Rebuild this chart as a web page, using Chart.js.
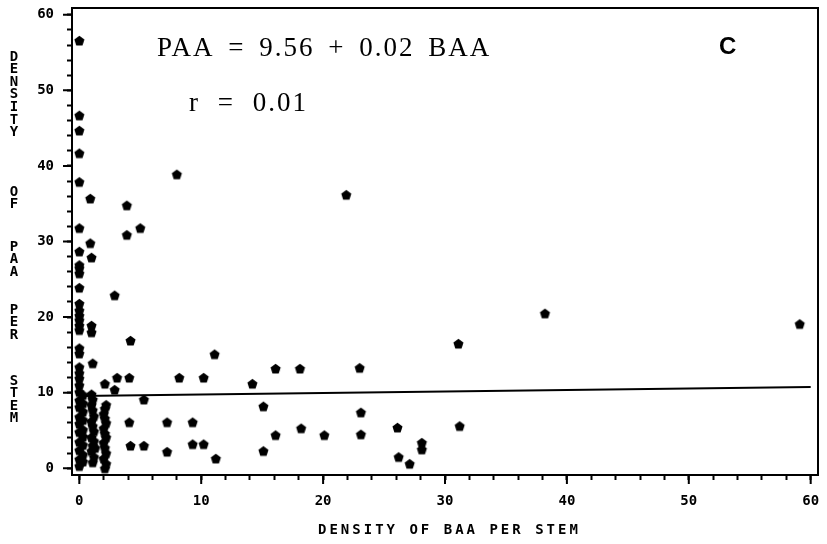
<!DOCTYPE html>
<html>
<head>
<meta charset="utf-8">
<script src="https://cdn.jsdelivr.net/npm/chart.js@4"></script>
<style>
  html, body { margin: 0; padding: 0; background: #fff; }
</style>
</head>
<body>
<canvas id="paa-chart" width="827" height="544"></canvas>
<script>
// density of BAA per stem (x) against density of PAA per stem (y)
const baa = [
  0, 0, 0, 0, 0, 0, 0, 0, 0, 0, 0, 0, 0, 0, 0, 0, 0, 0, 0, 0, 0, 0, 0,
  0, 0.3, 0, 0.3, 0, 0.3, 0, 0.3, 0, 0.3, 0, 0.3, 0, 0.3, 0, 0.3, 0, 0.3, 0,
  0.9, 0.9, 1.0, 1.0, 1.0, 1.1,
  1.1, 1.2, 1.0, 1.3, 1.1, 1.2, 1.0, 1.2, 1.1, 1.0, 1.2, 1.1, 1.0, 1.1, 1.0,
  2.1, 2.1, 2.2, 2.0, 2.2, 2.1, 2.0, 2.2, 2.1, 2.0, 2.2, 2.1, 2.0, 2.1, 2.2,
  2.9, 3.1, 2.9, 3.9, 3.9, 5.0, 8.0, 21.9, 4.2, 4.1, 8.2, 10.2, 11.1, 14.2,
  16.1, 18.1, 23.0, 31.1, 38.2, 59.1, 5.3, 4.1, 7.2, 9.3, 4.2, 5.3, 7.2,
  9.3, 10.2, 11.2, 15.1, 23.1, 26.1, 31.2, 15.1, 16.1, 18.2, 20.1, 23.1,
  26.2, 27.1, 28.1, 28.1
];
const paa = [
  56.6, 46.7, 44.7, 41.7, 37.9, 31.8, 28.7, 26.9, 26.5, 25.8, 23.9, 21.8,
  20.9, 20.2, 19.6, 18.9, 18.3, 15.9, 15.2, 13.4, 12.6, 11.9, 11.0,
  0.3, 0.9, 1.2, 1.8, 2.4, 3.1, 3.5, 4.2, 4.8, 5.1, 5.9, 6.4, 6.8, 7.5, 8.1,
  8.6, 9.0, 9.7, 10.1,
  35.7, 29.8, 27.9, 18.9, 18.0, 13.9,
  0.8, 1.5, 2.3, 2.7, 3.0, 3.6, 4.1, 4.9, 5.6, 6.2, 6.9, 7.7, 8.4, 9.1, 9.8,
  11.2, 0.0, 0.6, 1.3, 2.0, 2.7, 3.4, 4.1, 4.6, 5.3, 6.0, 6.6, 7.2, 7.9, 8.4,
  22.9, 12.0, 10.4, 34.8, 30.9, 31.8, 38.9, 36.2, 16.9, 12.0, 12.0, 12.0,
  15.1, 11.2, 13.2, 13.2, 13.3, 16.5, 20.5, 19.1, 9.1, 6.1, 6.1, 6.1, 3.0,
  3.0, 2.2, 3.2, 3.2, 1.3, 8.2, 7.4, 5.4, 5.6, 2.3, 4.4, 5.3, 4.4, 4.5,
  1.5, 0.6, 3.4, 2.5
];

// least squares fit: PAA = intercept + slope * BAA
const intercept = 9.56;
const slope = 0.02;
const rValue = 0.01;
const fitRange = [0, 60];

const axisLabels = [0, 10, 20, 30, 40, 50, 60];
const xTitle = 'DENSITY OF BAA PER STEM';
const yTitle = 'DENSITY OF PAA PER STEM';
const panelLetter = 'C';

// filled pentagon marker
function pentagon(r) {
  const c = document.createElement('canvas');
  const s = Math.ceil(r * 2 + 2);
  c.width = s; c.height = s;
  const g = c.getContext('2d');
  g.fillStyle = '#000';
  g.beginPath();
  for (let k = 0; k < 5; k++) {
    const a = -Math.PI / 2 + k * 2 * Math.PI / 5;
    const px = s / 2 + r * Math.cos(a), py = s / 2 + 0.6 + r * Math.sin(a);
    k ? g.lineTo(px, py) : g.moveTo(px, py);
  }
  g.closePath();
  g.fill();
  return c;
}

const minorTicks = [];
for (let v = 0; v <= 60; v += 2) minorTicks.push(v);

const tickFont = { family: 'DejaVu Sans Mono', weight: 'bold', size: 14 };

const gridOpts = {
  drawOnChartArea: false,
  drawTicks: true,
  tickLength: 5,
  tickWidth: 2,
  tickColor: '#000'
};

const labels = {
  id: 'labels',
  afterDraw(chart) {
    const { ctx, chartArea: a } = chart;
    const xs = chart.scales.x, ys = chart.scales.y;
    ctx.save();
    // frame around the plot
    ctx.strokeStyle = '#000';
    ctx.lineWidth = 2;
    ctx.strokeRect(a.left, a.top, a.right - a.left, a.bottom - a.top);

    // longer ticks at the labelled values
    ctx.beginPath();
    axisLabels.forEach(v => {
      const px = xs.getPixelForValue(v), py = ys.getPixelForValue(v);
      ctx.moveTo(px, a.bottom); ctx.lineTo(px, a.bottom + 9);
      ctx.moveTo(a.left, py); ctx.lineTo(a.left - 9, py);
    });
    ctx.stroke();

    ctx.fillStyle = '#000';
    ctx.textBaseline = 'alphabetic';
    ctx.textAlign = 'left';
    ctx.font = '27px "Liberation Serif"';
    ctx.letterSpacing = '2px';
    ctx.wordSpacing = '5px';
    ctx.fillText('PAA = ' + intercept.toFixed(2) + ' + ' + slope.toFixed(2) + ' BAA', 157, 56);
    ctx.wordSpacing = '9px';
    ctx.fillText('r = ' + rValue.toFixed(2), 189, 111);

    ctx.letterSpacing = '0px';
    ctx.wordSpacing = '0px';
    ctx.font = 'bold 24px "Liberation Sans"';
    ctx.fillText(panelLetter, 719, 54);

    // x title, spaced out
    ctx.font = 'bold 14px "DejaVu Sans Mono"';
    ctx.textBaseline = 'middle';
    ctx.textAlign = 'left';
    ctx.letterSpacing = '3px';
    ctx.fillText(xTitle, 318, 530);

    // y title, one letter under another
    ctx.letterSpacing = '0px';
    ctx.textAlign = 'center';
    const starts = [57, 192, 247, 310, 381];
    yTitle.split(' ').forEach((w, i) => {
      [...w].forEach((ch, j) => ctx.fillText(ch, 14, starts[i] + j * 12.6));
    });
    ctx.restore();
  }
};

new Chart(document.getElementById('paa-chart'), {
  type: 'scatter',
  data: {
    datasets: [{
      data: baa.map((x, i) => ({ x: x, y: paa[i] })),
      pointStyle: pentagon(5.3),
      pointRadius: 5,
      backgroundColor: '#000',
      borderColor: '#000'
    }, {
      type: 'line',
      data: fitRange.map(x => ({ x: x, y: intercept + slope * x })),
      borderColor: '#000',
      borderWidth: 2,
      pointRadius: 0,
      fill: false
    }]
  },
  options: {
    responsive: false,
    animation: false,
    layout: { padding: { top: 8, right: 9, left: 0, bottom: 0 } },
    plugins: {
      legend: { display: false },
      tooltip: { enabled: false }
    },
    scales: {
      x: {
        type: 'linear',
        min: -0.6,
        max: 60.6,
        border: { display: false },
        grid: gridOpts,
        afterBuildTicks: s => { s.ticks = minorTicks.map(v => ({ value: v })); },
        afterFit: s => { s.height = 69; s.paddingLeft = 0; s.paddingRight = 0; },
        ticks: {
          color: '#000',
          font: tickFont,
          padding: 13,
          maxRotation: 0,
          autoSkip: false,
          callback: v => axisLabels.includes(v) ? String(v) : ''
        }
      },
      y: {
        type: 'linear',
        min: -0.9,
        max: 60.9,
        border: { display: false },
        grid: gridOpts,
        afterBuildTicks: s => { s.ticks = minorTicks.map(v => ({ value: v })); },
        afterFit: s => { s.width = 72; s.paddingTop = 0; s.paddingBottom = 0; },
        ticks: {
          color: '#000',
          font: tickFont,
          padding: 13,
          autoSkip: false,
          callback: v => axisLabels.includes(v) ? String(v) : ''
        }
      }
    }
  },
  plugins: [labels]
});
</script>
</body>
</html>
